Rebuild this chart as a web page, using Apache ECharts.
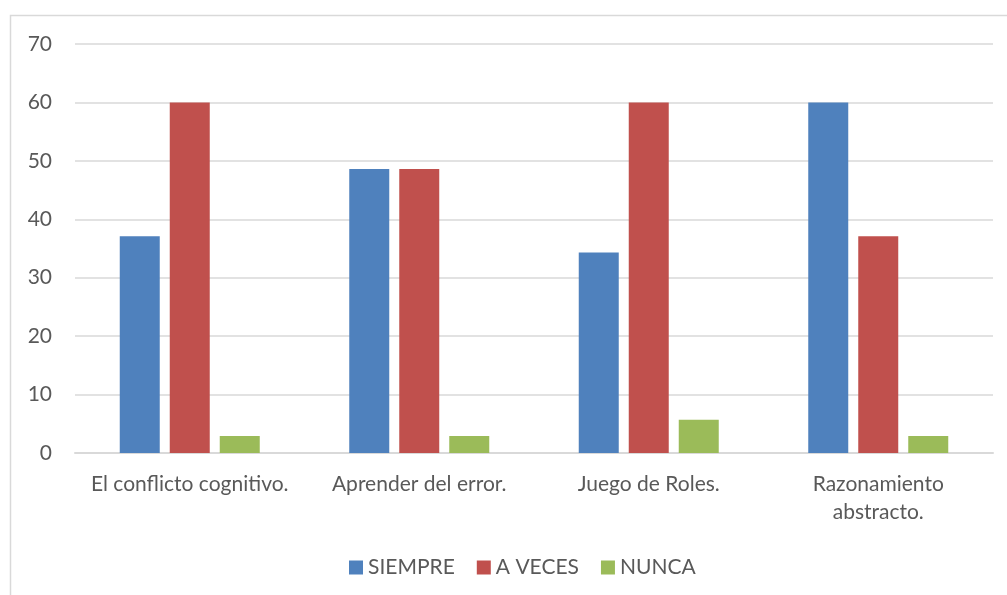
<!DOCTYPE html>
<html>
<head>
<meta charset="utf-8">
<script src="https://cdn.jsdelivr.net/npm/echarts@6/dist/echarts.min.js"></script>
<style>
  html, body { margin: 0; padding: 0; background: #fff; }
  #main { width: 1007px; height: 595px; }
</style>
</head>
<body>
<div id="main"></div>
<script>
// datos
const categories = ['El conflicto cognitivo.', 'Aprender del error.', 'Juego de Roles.', 'Razonamiento\nabstracto.'];
const siempre = [37.1, 48.6, 34.3, 60];
const aVeces = [60, 48.6, 60, 37.1];
const nunca = [2.9, 2.9, 5.7, 2.9];
const yTicks = [0, 10, 20, 30, 40, 50, 60, 70];

const textColor = '#595959';
const fontFamily = 'Lato, "Open Sans", sans-serif';

const chart = echarts.init(document.getElementById('main'), null, { renderer: 'canvas' });

chart.setOption({
  backgroundColor: '#fff',
  animation: false,
  textStyle: { fontFamily: fontFamily, color: textColor },
  graphic: [{
    type: 'rect',
    shape: { x: 10.5, y: 15.5, width: 1100, height: 700 },
    style: { fill: 'none', stroke: '#D9D9D9', lineWidth: 1.5 },
    silent: true
  }],
  grid: { left: 75, right: 14, top: 44, bottom: 142 },
  legend: {
    bottom: 12,
    left: 344,
    itemWidth: 14,
    itemHeight: 14,
    itemGap: 22,
    icon: 'rect',
    textStyle: { fontSize: 21, color: textColor, fontFamily: fontFamily },
    data: ['SIEMPRE', 'A VECES', 'NUNCA']
  },
  xAxis: {
    type: 'category',
    data: categories,
    axisLine: { lineStyle: { color: '#D9D9D9', width: 2 } },
    axisTick: { show: false },
    axisLabel: { interval: 0, fontSize: 21, color: textColor, margin: 17, lineHeight: 28, fontFamily: fontFamily }
  },
  yAxis: {
    type: 'value',
    min: yTicks[0],
    max: yTicks[yTicks.length - 1],
    interval: 10,
    axisLine: { show: false },
    axisTick: { show: false },
    splitLine: { lineStyle: { color: '#D9D9D9', width: 1.5 } },
    axisLabel: { fontSize: 21, color: textColor, margin: 23, fontFamily: fontFamily }
  },
  series: [
    { name: 'SIEMPRE', type: 'bar', data: siempre, barWidth: 40, barGap: '25%', itemStyle: { color: '#4F81BD' } },
    { name: 'A VECES', type: 'bar', data: aVeces, barWidth: 40, barGap: '25%', itemStyle: { color: '#C0504D' } },
    { name: 'NUNCA', type: 'bar', data: nunca, barWidth: 40, barGap: '25%', itemStyle: { color: '#9BBB59' } }
  ]
});
</script>
</body>
</html>
